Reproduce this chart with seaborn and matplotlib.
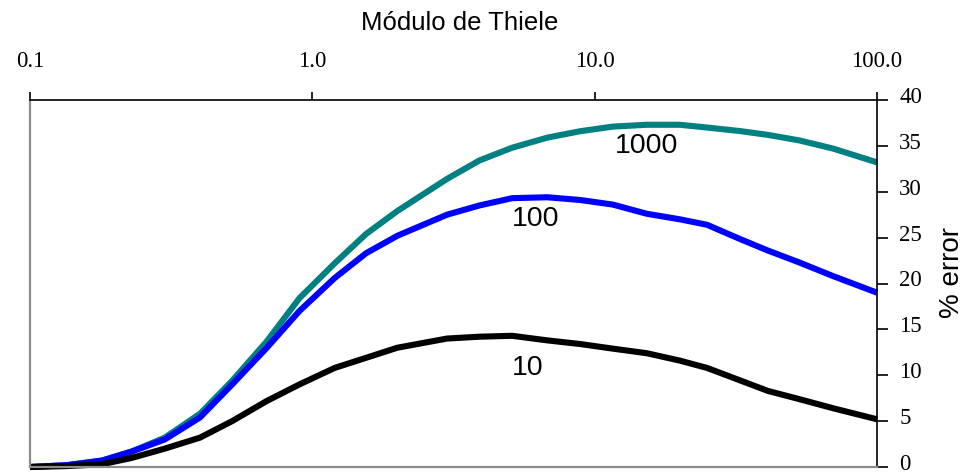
import numpy as np
import pandas as pd
import matplotlib
matplotlib.use("Agg")
import matplotlib.pyplot as plt
from matplotlib.ticker import FixedLocator, FixedFormatter, NullLocator
from matplotlib.transforms import ScaledTranslation
import seaborn as sns

# Thiele modulus (log scale) and percent error for three parameter values
thiele = [0.1, 0.135, 0.18, 0.23, 0.3, 0.4, 0.52, 0.69, 0.9, 1.2, 1.55, 2.0,
          3.0, 3.9, 5.1, 6.8, 8.9, 11.6, 15.3, 20, 25, 33, 41, 53, 70, 100]
err_10 = [0.0, 0.1, 0.3, 1.0, 2.0, 3.2, 5.0, 7.2, 9.0, 10.8, 11.9, 13.0,
          14.0, 14.2, 14.3, 13.8, 13.4, 12.9, 12.4, 11.6, 10.8, 9.4, 8.3, 7.4, 6.4, 5.2]
err_100 = [0.0, 0.2, 0.7, 1.7, 3.0, 5.4, 9.0, 13.0, 17.0, 20.6, 23.3, 25.2,
           27.5, 28.5, 29.3, 29.4, 29.1, 28.6, 27.6, 27.0, 26.4, 24.8, 23.6, 22.3, 20.8, 19.0]
err_1000 = [0.0, 0.2, 0.7, 1.7, 3.2, 5.8, 9.4, 13.7, 18.4, 22.2, 25.4, 27.9,
            31.4, 33.4, 34.8, 35.9, 36.6, 37.1, 37.3, 37.3, 37.0, 36.6, 36.2, 35.6, 34.7, 33.2]

series_names = ["1000", "100", "10"]
series_colors = ["#008080", "#0000ff", "#000000"]

x_ticks = [0.1, 1.0, 10.0, 100.0]
x_tick_labels = ["0.1", "1.0", "10.0", "100.0"]
y_ticks = [0, 5, 10, 15, 20, 25, 30, 35, 40]
y_tick_labels = ["0", "5", "10", "15", "20", "25", "30", "35", "40"]

df = pd.concat([
    pd.DataFrame({"thiele": thiele, "error": err_1000, "curve": "1000"}),
    pd.DataFrame({"thiele": thiele, "error": err_100, "curve": "100"}),
    pd.DataFrame({"thiele": thiele, "error": err_10, "curve": "10"}),
], ignore_index=True)

sns.set_style("white")
plt.rcParams["font.family"] = ["Liberation Sans", "DejaVu Sans"]
plt.rcParams["text.color"] = "black"

fig = plt.figure(figsize=(9.66, 4.72), dpi=100)
ax = fig.add_axes([30 / 966, 1 - 467 / 472, 847 / 966, 367 / 472])

sns.lineplot(data=df, x="thiele", y="error", hue="curve",
             hue_order=series_names,
             palette=dict(zip(series_names, series_colors)),
             linewidth=4.4, estimator=None, sort=False, legend=False, ax=ax)
for ln in ax.lines:
    ln.set_clip_on(False)
    ln.set_solid_capstyle("butt")
    ln.set_solid_joinstyle("round")

ax.set_xscale("log")
ax.set_xlim(0.1, 100)
ax.set_ylim(0, 40)
ax.set_xlabel("")
ax.set_ylabel("")

# x axis on top, y axis on the right
ax.xaxis.tick_top()
ax.yaxis.tick_right()
ax.xaxis.set_major_locator(FixedLocator(x_ticks))
ax.xaxis.set_major_formatter(FixedFormatter(x_tick_labels))
ax.xaxis.set_minor_locator(NullLocator())
ax.yaxis.set_major_locator(FixedLocator(y_ticks))
ax.yaxis.set_major_formatter(FixedFormatter(y_tick_labels))

ax.tick_params(axis="x", which="major", top=True, bottom=False, direction="out",
               length=6, width=1.2, pad=14, labelsize=16.5, colors="black",
               labelfontfamily="Liberation Serif")
ax.tick_params(axis="y", which="major", right=True, left=False, direction="out",
               length=8, width=1.2, pad=8, labelsize=16.5, colors="black",
               labelfontfamily="Liberation Serif")

# nudge the right-hand tick labels up a little
nudge = ScaledTranslation(0, 5 / 100, fig.dpi_scale_trans)
for tick in ax.yaxis.get_major_ticks():
    tick.label2.set_transform(tick.label2.get_transform() + nudge)

for side in ("left", "bottom"):
    ax.spines[side].set_color("#8c8c8c")
    ax.spines[side].set_linewidth(1.6)
for side in ("top", "right"):
    ax.spines[side].set_color("black")
    ax.spines[side].set_linewidth(1.2)

# curve labels
ax.text(15.3, 35.0, "1000", fontsize=20.5, ha="center", va="center")
ax.text(6.2, 27.0, "100", fontsize=20.5, ha="center", va="center")
ax.text(5.8, 10.8, "10", fontsize=20.5, ha="center", va="center")

fig.text(460 / 966, 1 - 23 / 472, "Módulo de Thiele", fontsize=18.5,
         ha="center", va="center")
fig.text(952 / 966, 1 - 272 / 472, "% error", fontsize=20, rotation=90,
         ha="center", va="center")

fig.savefig("out.png", dpi=100, facecolor="white")
